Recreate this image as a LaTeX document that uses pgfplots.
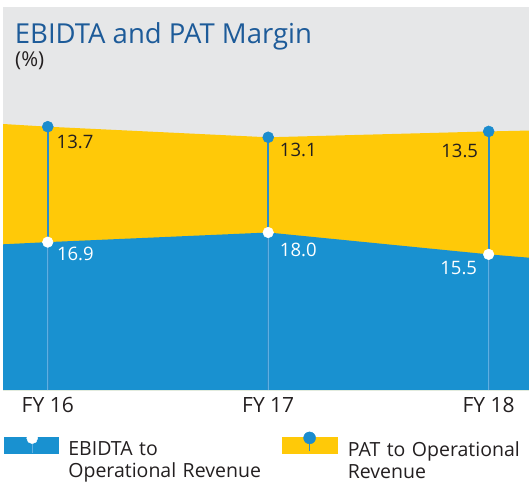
\documentclass[border=0pt]{standalone}
\usepackage{pgfplots}
\pgfplotsset{compat=1.18}
\usepackage{pgfplotstable}
\usepackage{fontspec}
\setmainfont{Open Sans}
\definecolor{ebblue}{RGB}{25,145,208}
\definecolor{patyellow}{RGB}{255,201,8}
\definecolor{bggrey}{RGB}{230,231,232}
\definecolor{titleblue}{RGB}{29,91,153}
\definecolor{markblue}{RGB}{27,140,206}
\definecolor{stemblue}{RGB}{45,140,200}
\definecolor{stemlight}{RGB}{95,175,226}
\definecolor{textdark}{RGB}{35,31,32}

% area outline (ends extend past the first and last year)
\pgfplotstableread{
x      eb     top
-0.203 16.65  30.40
0      16.9   30.09
1      18.0   28.88
2      15.5   29.55
2.183  15.12  29.65
}\areadata

% points, labels and label placement (label centre offsets)
\pgfplotstableread{
x eb   top   elab plab edx  edy   pdx  pdy
0 16.9 30.09 16.9 13.7 27.6 -5.2  27.3 -8.3
1 18.0 28.88 18.0 13.1 30.1 -10.8 30.1 -6
2 15.5 29.55 15.5 13.5 -30  -6.3  -29  -12
}\ptdata

\begin{document}
\begin{tikzpicture}
\useasboundingbox (0,0) rectangle (529pt,482pt);
\begin{axis}[
  at={(3pt,92pt)}, anchor=south west,
  scale only axis, width=526pt, height=383pt,
  xmin=-0.203, xmax=2.183, ymin=0, ymax=43.77,
  axis background/.style={fill=bggrey},
  axis line style={draw=none},
  major tick length=0pt,
  ytick=\empty,
  xtick={0,1,2}, xticklabels={FY 16, FY 17, FY 18},
  xticklabel style={font=\fontsize{21}{25}\selectfont, text=textdark, inner sep=0pt, anchor=north, yshift=-7pt},
  legend columns=2,
  legend style={at={(axis description cs:0,0)}, anchor=north west, xshift=1pt, yshift=-41.7pt,
    draw=none, fill=none, inner sep=0pt, outer sep=0pt,
    font=\fontsize{19.5}{22.7}\selectfont, text=textdark,
    cells={anchor=north west},
    nodes={inner sep=0pt, text width=200pt, align=left},
    column sep=10pt,
    /tikz/every even column/.append style={column sep=14pt}},
]
\addlegendimage{legend image code/.code={
  \fill[ebblue] (0pt,3.7pt) rectangle (54pt,-11.7pt);
  \draw[stemlight, line width=1.2pt] (28pt,-3pt) -- (28pt,-11.7pt);
  \fill[white] (28pt,3pt) circle (5.5pt);
}}
\addlegendentry{EBIDTA to\\Operational Revenue}
\addlegendimage{legend image code/.code={
  \fill[patyellow] (0pt,3.7pt) rectangle (55pt,-11.7pt);
  \draw[stemblue, line width=1.6pt] (27pt,3.3pt) -- (27pt,-9.7pt);
  \fill[markblue] (27pt,3.3pt) circle (6pt);
}}
\addlegendentry{PAT to Operational\\Revenue}

% areas
\addplot[forget plot, draw=none, fill=patyellow] table[x=x, y=top] {\areadata} \closedcycle;
\addplot[forget plot, draw=none, fill=ebblue] table[x=x, y=eb] {\areadata} \closedcycle;

% stems
\addplot[forget plot, ycomb, stemblue, line width=1.8pt] table[x=x, y=top] {\ptdata};
\addplot[forget plot, ycomb, stemlight, line width=1.4pt] table[x=x, y=eb] {\ptdata};

% PAT markers and labels
\addplot[forget plot, markblue, only marks, mark=*, mark size=5.5pt,
  mark options={solid, fill=markblue, draw=markblue, line width=0.5pt},
  point meta=explicit symbolic,
  visualization depends on={\thisrow{pdx}\as\ldx},
  visualization depends on={\thisrow{pdy}\as\ldy},
  nodes near coords={\pgfplotspointmeta},
  every node near coord/.append style={anchor=north, xshift=\ldx pt, yshift=\ldy pt,
    inner sep=0pt, font=\fontsize{18.5}{22}\selectfont, text=textdark},
] table[x=x, y=top, meta=plab] {\ptdata};

% EBIDTA markers and labels
\addplot[forget plot, white, only marks, mark=*, mark size=5.3pt,
  mark options={solid, fill=white, draw=white, line width=0.5pt},
  point meta=explicit symbolic,
  visualization depends on={\thisrow{edx}\as\ldx},
  visualization depends on={\thisrow{edy}\as\ldy},
  nodes near coords={\pgfplotspointmeta},
  every node near coord/.append style={anchor=north, xshift=\ldx pt, yshift=\ldy pt,
    inner sep=0pt, font=\fontsize{18.5}{22}\selectfont, text=white},
] table[x=x, y=eb, meta=elab] {\ptdata};
\end{axis}
\node[anchor=base west, inner sep=0pt, text=titleblue, font=\fontsize{27.5}{32}\selectfont] at (14.7pt,438.7pt) {EBIDTA and PAT Margin};
\node[anchor=base west, inner sep=0pt, text=textdark, font=\fontsize{20.5}{24}\selectfont] at (15pt,415pt) {(\%)};
\end{tikzpicture}
\end{document}
